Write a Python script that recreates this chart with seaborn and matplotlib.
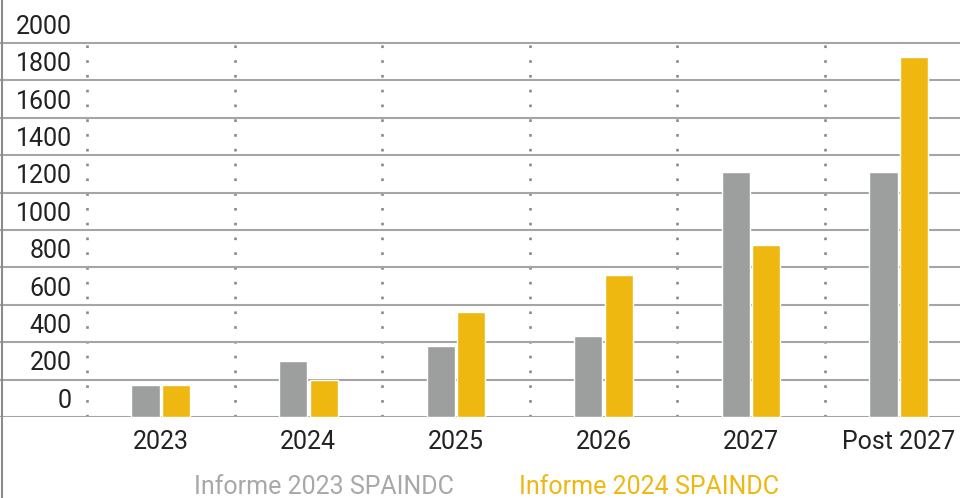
import matplotlib
matplotlib.use("Agg")
import matplotlib.pyplot as plt
from matplotlib.lines import Line2D
import pandas as pd
import seaborn as sns

# values
categories = ['2023', '2024', '2025', '2026', '2027', 'Post 2027']
informe_2023 = [170, 300, 380, 435, 1310, 1310]
informe_2024 = [170, 200, 560, 760, 920, 1925]
series_names = ['Informe 2023 SPAINDC', 'Informe 2024 SPAINDC']
colors = ['#9d9f9e', '#efb810']
y_ticks = list(range(0, 2001, 200))

df = pd.DataFrame({
    'year': categories * 2,
    'value': informe_2023 + informe_2024,
    'serie': [series_names[0]] * len(categories) + [series_names[1]] * len(categories),
})

sns.set_style('white')
plt.rcParams['font.family'] = ['Roboto', 'DejaVu Sans']

fig = plt.figure(figsize=(9.6, 4.98), dpi=100)
ax = fig.add_axes([0, 81 / 498, 1, 417 / 498])

sns.barplot(data=df, x='year', y='value', hue='serie', palette=colors,
            width=0.413, gap=0.08, saturation=1, ax=ax)

ax.set_xlim(-1.089, 5.415)
ax.set_ylim(0, 2230)

# gridlines on the real values, labels sit half a step above them
ax.set_yticks(y_ticks, minor=True)
ax.set_yticks([v + 100 for v in y_ticks])
ax.set_yticklabels([str(v) for v in y_ticks])
ax.grid(False)
ax.grid(which='minor', axis='y', color='#a5a5a5', linewidth=1.5)
ax.set_axisbelow(True)
ax.tick_params(axis='y', which='both', length=0, pad=-51.8, labelsize=18, labelcolor='#222222')
ax.tick_params(axis='x', length=0, pad=9, labelsize=18, labelcolor='#222222')
ax.set_xlabel('')
ax.set_ylabel('')

# dotted separators between categories
ax.vlines([i - 0.5 for i in range(len(categories))], 0, 2000,
          colors='#8a8a8a', linewidth=1.9, linestyles=(0, (1, 4.6)), zorder=0)

for s in ax.spines.values():
    s.set_visible(False)

fig.add_artist(Line2D([0.002, 0.002], [0, 1], transform=fig.transFigure,
                      color='#8c8c8c', linewidth=1.5))

handles, labels = ax.get_legend_handles_labels()
ax.get_legend().remove()
leg = fig.legend(handles, labels, loc='center', bbox_to_anchor=(487 / 960, 11 / 498),
                 ncol=2, frameon=False, handlelength=0, handletextpad=0,
                 columnspacing=2.6, fontsize=18)
for h in leg.legend_handles:
    h.set_visible(False)
for t, c in zip(leg.get_texts(), ['#a8a8a8', colors[1]]):
    t.set_color(c)

fig.savefig('out.png', dpi=100)
